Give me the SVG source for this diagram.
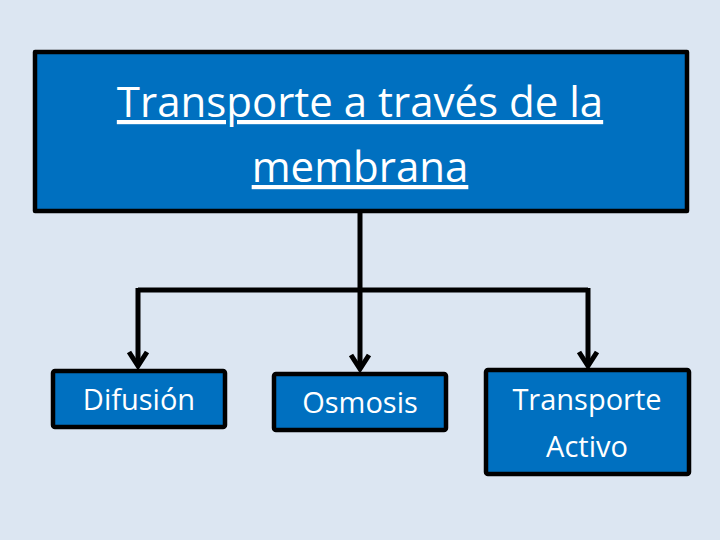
<svg xmlns="http://www.w3.org/2000/svg" width="720" height="540" viewBox="0 0 720 540">
<style>
.box{fill:#0070c0;stroke:#000;stroke-width:4.5;stroke-linejoin:round}
.t{fill:#fff;font-family:"Open Sans","DejaVu Sans",sans-serif;text-anchor:middle}
.c{fill:none;stroke:#000;stroke-width:5}
</style>
<defs><marker id="a" viewBox="0 0 10 10" refX="5" refY="8" markerWidth="4" markerHeight="4" orient="auto" markerUnits="userSpaceOnUse"><path d="M0,0"/></marker></defs>
<rect width="720" height="540" fill="#dce6f2"/>
<g id="top"><rect class="box" x="35" y="52" width="652" height="159" stroke-width="5"/>
<text class="t" font-size="42" text-decoration="underline"><tspan x="360" y="117">Transporte a través de la</tspan><tspan x="360" y="182">membrana</tspan></text></g>
<g id="connectors" class="c">
<path d="M360,211V290M138,290H588M138,288V366M360,290V369M588,288V366"/>
<path d="M129,352L138,366L147,352M351,355L360,369L369,355M579,352L588,366L597,352" stroke-width="5"/>
</g>
<g id="difusion"><rect class="box" x="53" y="371" width="172" height="56" rx="2"/><text class="t" x="139" y="410" font-size="29">Difusión</text></g>
<g id="osmosis"><rect class="box" x="274" y="374" width="172" height="56" rx="2"/><text class="t" x="360" y="413" font-size="29">Osmosis</text></g>
<g id="activo"><rect class="box" x="486" y="370" width="203" height="104" rx="2"/><text class="t" font-size="29"><tspan x="587" y="410">Transporte</tspan><tspan x="587" y="457">Activo</tspan></text></g>
</svg>
